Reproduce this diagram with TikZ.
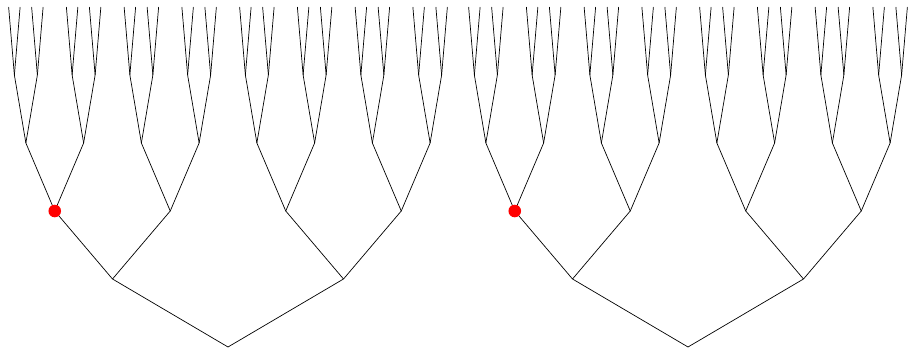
\documentclass[tikz,border=0pt]{standalone}
\usepackage{tikz}
\usepackage{xcolor}

\begin{document}
\begin{tikzpicture}[
    x=1pt, y=1pt,
    grow=up,
    level distance=68pt,
    level 1/.style={sibling distance=231pt},
    level 2/.style={sibling distance=115.5pt},
    level 3/.style={sibling distance=57.75pt},
    level 4/.style={sibling distance=23pt},
    level 5/.style={sibling distance=11.5pt},
    edge from parent/.style={draw=black, line width=0.7pt},
    hitdot/.style={fill=red}
  ]
  \useasboundingbox (0,0) rectangle (908,349);

  % two full binary trees of depth five
  \foreach \t/\x in {a/228,b/688}
    \coordinate (\t) at (\x,2)
      child foreach \i in {1,2} {coordinate
        child foreach \j in {1,2} {coordinate
          child foreach \k in {1,2} {coordinate
            child foreach \l in {1,2} {coordinate
              child foreach \m in {1,2} {coordinate}}}}};

  % marked node (leftmost on second level)
  \fill[hitdot] (a-2-2) circle (6.3pt);
  \fill[hitdot] (b-2-2) circle (6.3pt);
\end{tikzpicture}
\end{document}
